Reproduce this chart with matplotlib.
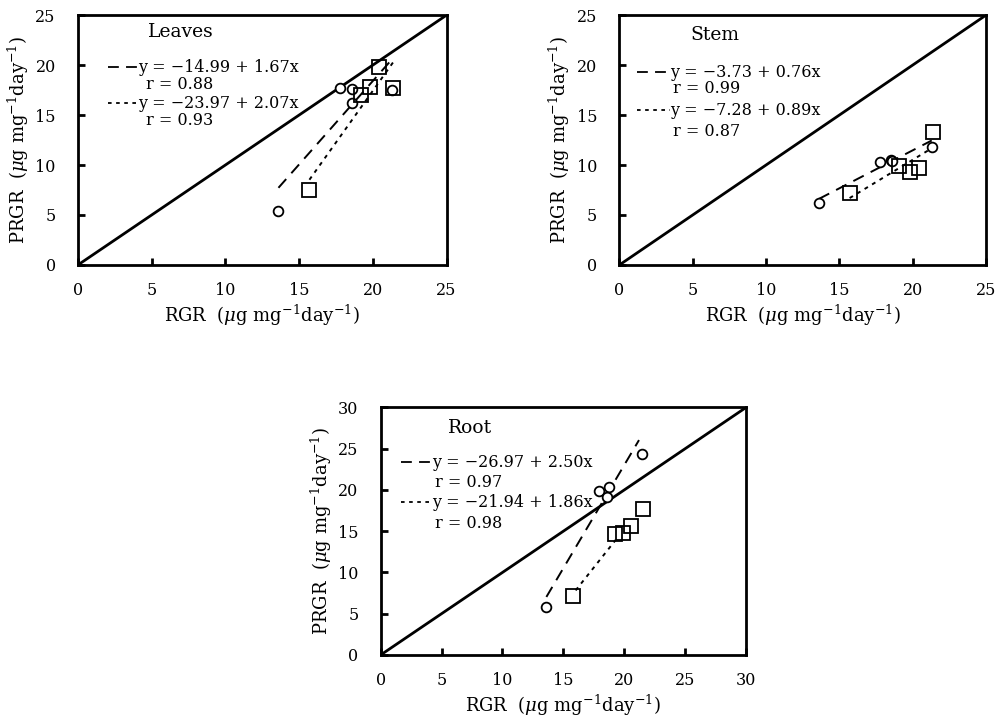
import numpy as np
import matplotlib
matplotlib.use("Agg")
import matplotlib.pyplot as plt

plt.rcParams['font.family'] = ['DejaVu Serif']
plt.rcParams['mathtext.fontset'] = 'dejavuserif'

# данные: RGR (x) и PRGR (y), кружки и квадраты
leaves_circ_x = [13.6, 17.8, 18.6, 18.6, 21.3]
leaves_circ_y = [5.4, 17.7, 17.6, 16.2, 17.5]
leaves_sq_x = [15.7, 19.2, 19.8, 20.4, 21.4]
leaves_sq_y = [7.5, 17.0, 17.8, 19.8, 17.7]

stem_circ_x = [13.6, 17.8, 18.5, 18.6, 21.3]
stem_circ_y = [6.2, 10.3, 10.5, 10.4, 11.8]
stem_sq_x = [15.7, 19.1, 19.8, 20.4, 21.4]
stem_sq_y = [7.2, 9.9, 9.3, 9.7, 13.3]

root_circ_x = [13.6, 17.9, 18.7, 18.55, 21.45]
root_circ_y = [5.8, 19.9, 20.4, 19.1, 24.4]
root_sq_x = [15.8, 19.2, 19.9, 20.55, 21.5]
root_sq_y = [7.1, 14.7, 14.8, 15.6, 17.7]

# регрессии: (a, b, x_start, x_end)
leaves_fit = [(-14.99, 1.67, 13.6, 21.4), (-23.97, 2.07, 15.7, 21.5)]
stem_fit = [(-3.73, 0.76, 13.6, 21.3), (-7.28, 0.89, 15.7, 21.3)]
root_fit = [(-26.97, 2.50, 13.6, 21.2), (-21.94, 1.86, 16.0, 19.3)]

leaves_text = ["y = \u221214.99 + 1.67x", "r = 0.88", "y = \u221223.97 + 2.07x", "r = 0.93"]
stem_text = ["y = \u22123.73 + 0.76x", "r = 0.99", "y = \u22127.28 + 0.89x", "r = 0.87"]
root_text = ["y = \u221226.97 + 2.50x", "r = 0.97", "y = \u221221.94 + 1.86x", "r = 0.98"]

fig = plt.figure(figsize=(9.99, 7.2), dpi=100)

xlab = r'RGR  ($\mu$g mg$^{-1}$day$^{-1}$)'
ylab = r'PRGR  ($\mu$g mg$^{-1}$day$^{-1}$)'


def panel(rect, lim, name, cx, cy, sx, sy, fits, texts, pos):
    ax = fig.add_axes(rect)
    ax.set_xlim(0, lim)
    ax.set_ylim(0, lim)
    ax.set_xticks(np.arange(0, lim + 1, 5))
    ax.set_yticks(np.arange(0, lim + 1, 5))
    ax.tick_params(direction='in', length=5, width=2, labelsize=11.5)
    ax.tick_params(axis='x', pad=12)
    ax.tick_params(axis='y', pad=16)
    for sp in ax.spines.values():
        sp.set_linewidth(2)
    ax.plot([0, lim], [0, lim], color='black', lw=2)
    ls = [(0, (6, 4)), (0, (2, 2.5))]
    for (a, b, x0, x1), l in zip(fits, ls):
        xx = np.array([x0, x1])
        ax.plot(xx, a + b * xx, color='black', lw=1.4, linestyle=l)
    ax.plot(cx, cy, 'o', ms=7, mfc='white', mec='black', mew=1.3)
    ax.plot(sx, sy, 's', ms=10, mfc='none', mec='black', mew=1.3)
    tx, ty, lx0, lx1, ex, rx, ys = pos
    ax.text(tx, ty, name, transform=ax.transAxes, fontsize=13.5, va='center')
    for i, l in enumerate(ls):
        yl = ys[2 * i]
        ax.plot([lx0, lx1], [yl, yl], transform=ax.transAxes, color='black',
                lw=1.3, linestyle=l, clip_on=False)
        ax.text(ex, yl, texts[2 * i], transform=ax.transAxes, fontsize=11.5, va='center')
        ax.text(rx, ys[2 * i + 1], texts[2 * i + 1], transform=ax.transAxes,
                fontsize=11.5, va='center')
    ax.set_xlabel(xlab, fontsize=13, labelpad=3)
    ax.set_ylabel(ylab, fontsize=13, labelpad=3)
    return ax


panel([0.078, 0.632, 0.369, 0.347], 25, 'Leaves',
      leaves_circ_x, leaves_circ_y, leaves_sq_x, leaves_sq_y, leaves_fit, leaves_text,
      (0.19, 0.932, 0.081, 0.16, 0.163, 0.184, [0.792, 0.724, 0.648, 0.58]))
panel([0.620, 0.632, 0.367, 0.347], 25, 'Stem',
      stem_circ_x, stem_circ_y, stem_sq_x, stem_sq_y, stem_fit, stem_text,
      (0.193, 0.92, 0.049, 0.139, 0.139, 0.147, [0.772, 0.708, 0.62, 0.536]))
panel([0.381, 0.0903, 0.366, 0.344], 30, 'Root',
      root_circ_x, root_circ_y, root_sq_x, root_sq_y, root_fit, root_text,
      (0.183, 0.915, 0.057, 0.142, 0.142, 0.148, [0.778, 0.698, 0.617, 0.532]))

fig.savefig('out.png', dpi=100)
